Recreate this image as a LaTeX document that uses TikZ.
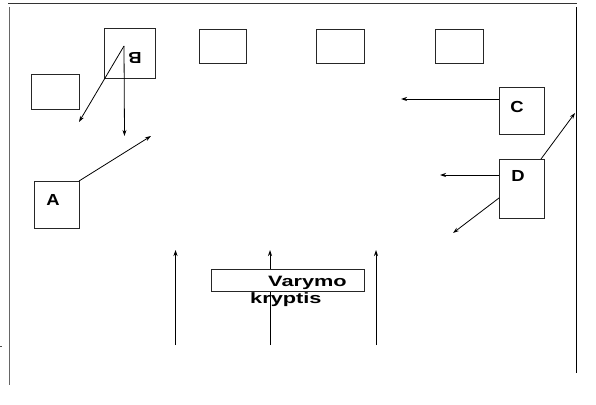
\documentclass[tikz,border=0pt]{standalone}
\usepackage{fontspec}
\setmainfont{Liberation Sans}
\usepackage{graphicx}
\usetikzlibrary{arrows.meta}
\begin{document}
\begin{tikzpicture}[x=1pt,y=-1pt,
  box/.style={draw=black!85, line width=0.8pt, inner sep=0pt, outer sep=0pt, anchor=north west},
  lbl/.style={font=\bfseries\fontsize{16}{16}\selectfont, inner sep=0pt},
  txt/.style={font=\bfseries\fontsize{15}{15}\selectfont, inner sep=0pt},
  arr/.style={-{Stealth[length=6pt,width=4pt]}, line width=0.8pt},
  framel/.style={line width=1pt, draw=black!80}]
\useasboundingbox (0,0) rectangle (596,404);
% frame
\draw[framel] (8,4) -- (577,4);
\draw[framel, draw=black!60] (9,7) -- (9,385);
\draw[framel, draw=black] (576.5,7) -- (576.5,373);
\draw[line width=0.6pt, draw=black!70] (0,346) -- (2,346);
% boxes
\node[box, minimum width=51pt, minimum height=50pt] (B) at (104,28) {};
\node[box, minimum width=48pt, minimum height=35pt] (S1) at (31,74) {};
\node[box, minimum width=47pt, minimum height=34pt] (S2) at (199,29) {};
\node[box, minimum width=48pt, minimum height=34pt] (S3) at (316,29) {};
\node[box, minimum width=48pt, minimum height=34pt] (S4) at (435,29) {};
\node[box, minimum width=45pt, minimum height=47pt] (A) at (34,181) {};
\node[box, minimum width=45pt, minimum height=47pt] (C) at (499,87) {};
\node[box, minimum width=45pt, minimum height=59pt] (D) at (499,159) {};
% labels
\node[lbl] (Alab) at (53,199.5) {\scalebox{1.15}[1]{A}};
\node[lbl, rotate=180] (Blab) at (135,58) {\scalebox{1.15}[1]{B}};
\node[lbl] (Clab) at (517,107) {\scalebox{1.15}[1]{C}};
\node[lbl] (Dlab) at (518,176) {\scalebox{1.15}[1]{D}};
% arrow coordinates
\coordinate (b0) at (124,46);
\coordinate (b1) at (79,122);
\coordinate (b2) at (124.5,136);
\coordinate (a1) at (151,136);
\coordinate (c0) at (499,99);
\coordinate (c1) at (401,99);
\coordinate (d0) at (499,175);
\coordinate (d1) at (440,175);
\coordinate (d2) at (499,198);
\coordinate (d3) at (453,233);
\coordinate (d4) at (541,159);
\coordinate (d5) at (575,113);
\coordinate (u1s) at (175.5,345);
\coordinate (u1e) at (175.5,250);
\coordinate (u2s) at (270,345);
\coordinate (u2e) at (270,250);
\coordinate (u3s) at (376,345);
\coordinate (u3e) at (376,250);
% arrows
\draw[arr] (b0) -- (b1);
\draw[arr] (b0) -- (b2);
\draw[arr] (A.north east) -- (a1);
\draw[arr] (c0) -- (c1);
\draw[arr] (d0) -- (d1);
\draw[arr] (d2) -- (d3);
\draw[arr] (d4) -- (d5);
\draw[arr] (u1s) -- (u1e);
\draw[arr] (u2s) -- (u2e);
\draw[arr] (u3s) -- (u3e);
% direction box and text
\node[box, fill=white, minimum width=153pt, minimum height=22pt] (T) at (211,269) {};
\node[txt, anchor=base west] (Tv) at (268,286.5) {\scalebox{1.45}[1]{Varymo}};
\node[txt, anchor=base west] (Tk) at (250,303) {\scalebox{1.45}[1]{kryptis}};
\end{tikzpicture}
\end{document}
